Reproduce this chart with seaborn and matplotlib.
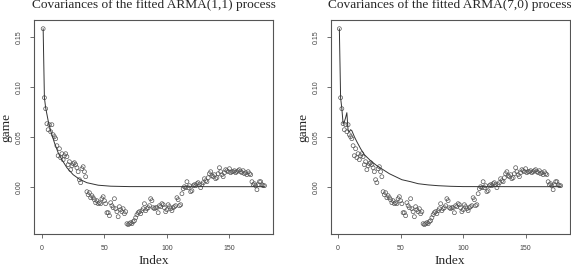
import matplotlib
matplotlib.use("Agg")
import matplotlib.pyplot as plt
import seaborn as sns
import numpy as np
import pandas as pd

# sample autocovariances, lags shown as Index 1..178
game = [
    0.158, 0.089, 0.078, 0.063, 0.057, 0.062, 0.055, 0.062, 0.052, 0.050,
    0.048, 0.041, 0.031, 0.038, 0.029, 0.033, 0.027, 0.031, 0.033, 0.030,
    0.022, 0.025, 0.017, 0.021, 0.023, 0.024, 0.022, 0.019, 0.015, 0.007,
    0.004, 0.018, 0.020, 0.015, 0.010, -0.005, -0.008, -0.006, -0.011, -0.009,
    -0.011, -0.013, -0.016, -0.014, -0.017, -0.016, -0.017, -0.012, -0.010, -0.014,
    -0.017, -0.026, -0.026, -0.029, -0.016, -0.019, -0.021, -0.012, -0.022, -0.025,
    -0.030, -0.020, -0.023, -0.025, -0.022, -0.027, -0.025, -0.037, -0.038, -0.037,
    -0.036, -0.037, -0.035, -0.034, -0.031, -0.028, -0.026, -0.025, -0.027, -0.024,
    -0.022, -0.017, -0.024, -0.022, -0.021, -0.019, -0.012, -0.014, -0.021, -0.022,
    -0.021, -0.021, -0.026, -0.019, -0.020, -0.017, -0.018, -0.021, -0.025, -0.023,
    -0.018, -0.020, -0.022, -0.024, -0.021, -0.020, -0.019, -0.011, -0.013, -0.019,
    -0.018, -0.007, -0.002, 0.000, -0.001, 0.005, -0.001, 0.001, -0.005, -0.004,
    0.001, 0.002, 0.001, 0.003, 0.004, 0.002, -0.001, 0.002, 0.004, 0.008,
    0.006, 0.005, 0.009, 0.013, 0.015, 0.011, 0.010, 0.012, 0.008, 0.009,
    0.013, 0.019, 0.015, 0.012, 0.010, 0.014, 0.017, 0.016, 0.015, 0.018,
    0.014, 0.015, 0.015, 0.016, 0.014, 0.015, 0.016, 0.017, 0.015, 0.014,
    0.016, 0.013, 0.014, 0.012, 0.015, 0.013, 0.012, 0.005, 0.002, 0.003,
    0.001, -0.003, 0.002, 0.005, 0.005, 0.002, 0.001, 0.001,
]
index = list(range(1, len(game) + 1))

# fitted model covariances, read at a few lags
arma11_idx = [1, 2, 3, 5, 7, 10, 13, 16, 20, 25, 30, 36, 45, 55, 70, 178]
arma11_cov = [0.158, 0.089, 0.079, 0.066, 0.056, 0.044, 0.034, 0.027, 0.019,
              0.012, 0.0075, 0.004, 0.0015, 0.0005, 0.0001, 0.0]

arma70_idx = [1, 2, 3, 4, 5, 6, 7, 8, 9, 10, 11, 13, 15, 18, 21, 26, 31, 36,
              41, 46, 51, 58, 64, 72, 80, 90, 100, 178]
arma70_cov = [0.158, 0.089, 0.078, 0.063, 0.065, 0.069, 0.074, 0.056, 0.055,
              0.057, 0.056, 0.050, 0.045, 0.038, 0.032, 0.026, 0.021, 0.017,
              0.013, 0.010, 0.007, 0.005, 0.003, 0.0018, 0.001, 0.0004, 0.0001, 0.0]

titles = ["Covariances of the fitted ARMA(1,1) process",
          "Covariances of the fitted ARMA(7,0) process"]

sns.set_style("white")
plt.rcParams["font.family"] = ["Liberation Serif", "DejaVu Serif"]

pts = pd.DataFrame({"Index": index, "game": game})
fits = [pd.DataFrame({"Index": arma11_idx, "cov": arma11_cov}),
        pd.DataFrame({"Index": arma70_idx, "cov": arma70_cov})]

fig = plt.figure(figsize=(5.71, 2.70), dpi=100)
boxes = [[34.3 / 571, 1 - 234 / 270, 239 / 571, 214 / 270],
         [330.5 / 571, 1 - 234 / 270, 239 / 571, 214 / 270]]

for k in range(2):
    ax = fig.add_axes(boxes[k])
    sns.scatterplot(data=pts, x="Index", y="game", ax=ax, marker="o", s=8,
                    facecolor="none", edgecolor="#555555", linewidth=0.5)
    sns.lineplot(data=fits[k], x="Index", y="cov", ax=ax, estimator=None, sort=False,
                 color="#333333", linewidth=0.7)
    ax.set_xlim(1 - 0.04 * 177, 178 + 0.04 * 177)
    ax.set_ylim(-0.0473, 0.1667)
    ax.set_xticks([0, 50, 100, 150])
    ax.set_yticks([0.00, 0.05, 0.10, 0.15])
    ax.set_xticklabels(["0", "50", "100", "150"], family="Liberation Sans", fontsize=5, color="#444444")
    ax.set_yticklabels(["0.00", "0.05", "0.10", "0.15"], family="Liberation Sans", fontsize=5,
                       rotation=90, va="center", color="#444444")
    ax.tick_params(axis="both", which="major", direction="out", length=3, width=0.6,
                   color="#555555", pad=5, bottom=True, left=True)
    for sp in ax.spines.values():
        sp.set_color("#555555")
        sp.set_linewidth(0.8)
    ax.set_xlabel("Index", fontsize=9.6)
    ax.set_ylabel("game", fontsize=9.6)
    ax.xaxis.set_label_coords(0.5, -0.1)
    ax.yaxis.set_label_coords(-0.09, 0.5)
    ax.set_title(titles[k], fontsize=9.6, pad=8.5)

fig.savefig("out.png", dpi=100)
